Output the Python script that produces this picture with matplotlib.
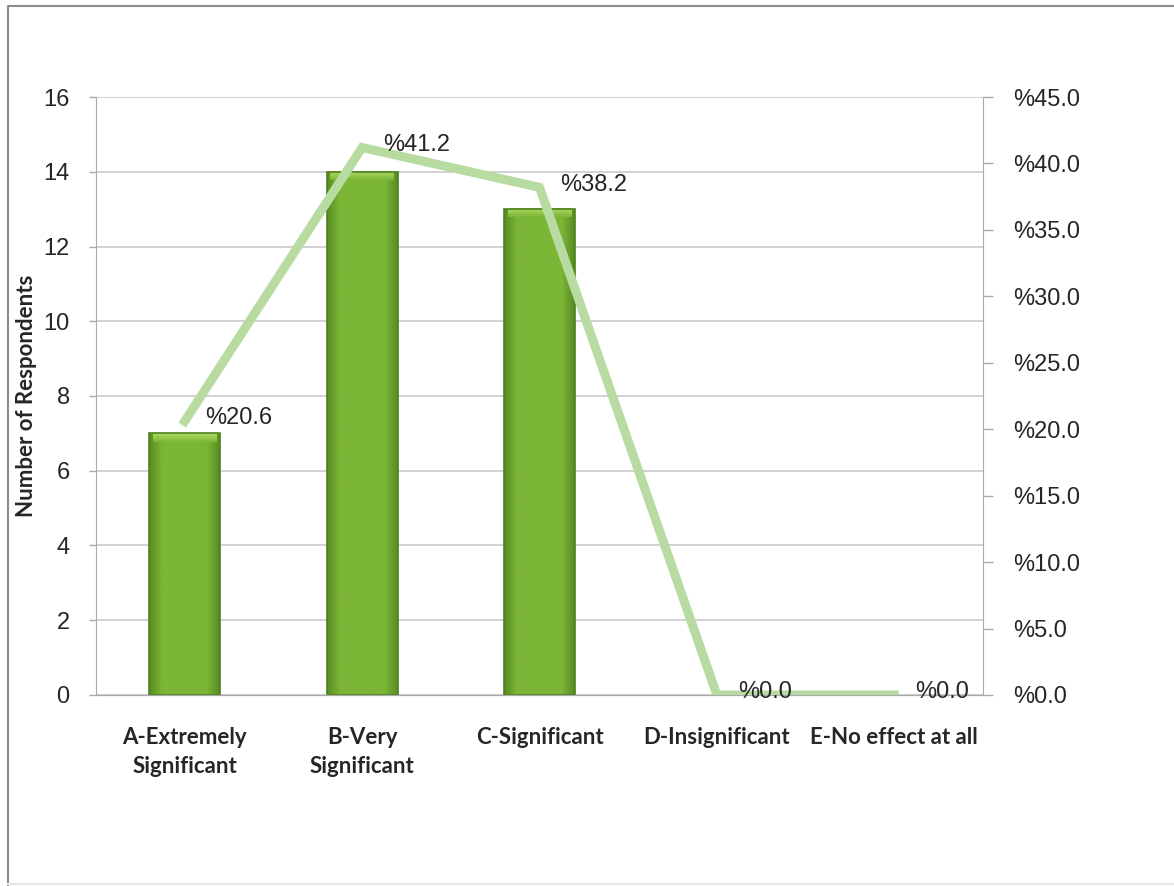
import numpy as np
import matplotlib
matplotlib.use("Agg")
import matplotlib.pyplot as plt
from matplotlib.patches import Rectangle
from matplotlib.lines import Line2D
from matplotlib.ticker import FuncFormatter, MultipleLocator

categories = ["A-Extremely\nSignificant", "B-Very\nSignificant", "C-Significant",
              "D-Insignificant", "E-No effect at all"]
respondents = [7, 14, 13, 0, 0]
percent = [20.6, 41.2, 38.2, 0.0, 0.0]

BAR_EDGE = "#4f801f"
LINE_GREEN = "#b8dba2"
GRID = "#c9c9c9"
TXT = "#262626"

fig = plt.figure(figsize=(11.74, 8.86), dpi=100)
ax = fig.add_axes([0.0818, 0.2156, 0.7555, 0.6749])
ax2 = ax.twinx()

x = np.arange(len(categories))
bars = ax.bar(x, respondents, width=0.4, color="#7ab434", linewidth=0, zorder=2)

# shading on each bar: darker sides, flat middle, lighter top
grad = np.linspace(0, 1, 80)
shade = np.clip(1 - np.maximum(0, np.abs(grad - 0.5) - 0.32) * 5.5, 0, 1)[None, :]
cmap = matplotlib.colors.LinearSegmentedColormap.from_list(
    "barg", ["#578c22", "#7cb636"])
top = np.linspace(0, 1, 20)[:, None]
cmap_top = matplotlib.colors.LinearSegmentedColormap.from_list(
    "bart", ["#7cb636", "#b0da64"])
for b in bars:
    if b.get_height() <= 0:
        continue
    x0, w, h = b.get_x(), b.get_width(), b.get_height()
    im = ax.imshow(shade, extent=(x0, x0 + w, 0, h), aspect="auto",
                   cmap=cmap, vmin=0, vmax=1, zorder=2.1)
    im.set_clip_path(b)
    ax.imshow(top, extent=(x0 + w * 0.05, x0 + w * 0.95, h - 0.22, h),
              aspect="auto", origin="lower", cmap=cmap_top, vmin=0,
              vmax=1, zorder=2.2)
    ax.add_patch(Rectangle((x0, 0), w, h, fill=False, edgecolor=BAR_EDGE,
                           lw=1.2, zorder=2.3))

ax.set_xlim(-0.5, len(categories) - 0.5)
ax.set_ylim(0, 16)
ax.yaxis.set_major_locator(MultipleLocator(2))
ax.grid(axis="y", color=GRID, linewidth=1.2, zorder=0)
ax.set_axisbelow(True)

ax2.plot(x, percent, color=LINE_GREEN, linewidth=6.5, solid_joinstyle="miter",
         zorder=3)
ax2.set_ylim(0, 45)
ax2.yaxis.set_major_locator(MultipleLocator(5))
ax2.yaxis.set_major_formatter(FuncFormatter(lambda v, p: f"%{v:.1f}"))
for xi, p in zip(x, percent):
    ax2.annotate(f"%{p:.1f}", (xi, p), xytext=(15, 2), textcoords="offset points",
                 ha="left", va="center", fontsize=17, color=TXT,
                 family="Liberation Sans")

ax.set_xticks(x)
ax.set_xticklabels(categories, fontsize=16, fontweight="bold", family="Lato",
                   color=TXT, linespacing=1.45)
ax.tick_params(axis="x", length=0, pad=23)
ax.tick_params(axis="y", length=5, width=1, color="#aaaaaa", pad=14,
               labelsize=17, labelcolor=TXT)
ax2.tick_params(axis="y", length=7, width=1, color="#aaaaaa", pad=15,
                labelsize=17, labelcolor=TXT)
for t in ax.get_yticklabels() + ax2.get_yticklabels():
    t.set_family("Liberation Sans")

ax.set_ylabel("Number of Respondents", fontsize=16, fontweight="bold",
              family="Lato", color=TXT)
ax.yaxis.set_label_coords(-0.066, 0.5)

for a in (ax, ax2):
    a.spines["top"].set_visible(False)
    for s in ("bottom", "left", "right"):
        a.spines[s].set_color("#aaaaaa")
ax.spines["right"].set_visible(False)
ax2.spines["left"].set_visible(False)

# outer frame of the chart (left and top edges, faint bottom)
fig.add_artist(Line2D([0.007, 0.007, 1.0], [0.0, 0.993, 0.993],
                      transform=fig.transFigure, color="#8c8c8c", lw=1.5))
fig.add_artist(Line2D([0.007, 1.0], [0.002, 0.002],
                      transform=fig.transFigure, color="#e6e6e6", lw=1.5))

fig.savefig("out.png", dpi=100)
